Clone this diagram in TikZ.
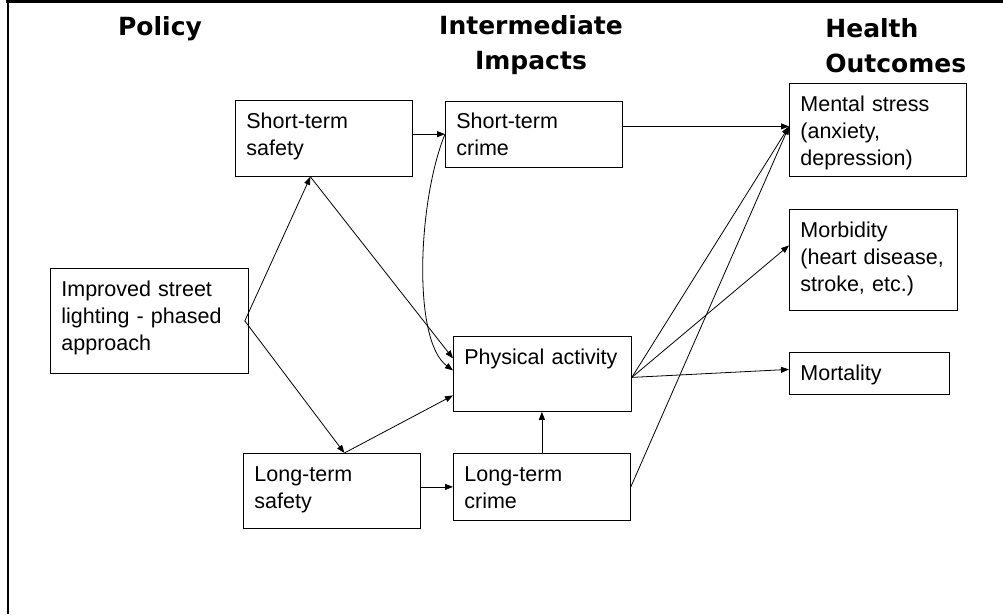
\documentclass[tikz,border=0pt]{standalone}
\usepackage{fontspec}
\usetikzlibrary{arrows.meta}
\newfontfamily\boxfont{Liberation Sans}
\newfontfamily\headfont{DejaVu Sans}
\tikzset{
  box/.style={draw, anchor=north west, align=left, inner xsep=11pt, inner ysep=0pt,
    text height=28pt, font=\boxfont\fontsize{21.5}{27}\selectfont},
  head/.style={inner sep=0pt, font=\headfont\bfseries\fontsize{25}{35}\selectfont}
}

\begin{document}
\begin{tikzpicture}[x=1pt, y=-1pt, line width=0.8pt]
      \useasboundingbox (0,0) rectangle (1003,614);
      \draw[line width=3pt] (1003,1.5) -- (6,1.5);
      \draw[line width=2pt] (7.5,0) -- (7.5,614);
      % column headings
      \node[head] (policy) at (160,29) {Policy};
      \node[head, align=center] (inter) at (531,45.5) {Intermediate\\Impacts};
      \node[head, align=left, anchor=west] (health) at (825,45.5) {Health\\Outcomes};
      % boxes
      \node[box, text width=176pt, text depth=77pt] (light) at (50,268) {Improved street\\lighting - phased\\approach};
      \node[box, text width=155pt, text depth=48pt] (stsafe) at (235,100) {Short-term\\safety};
      \node[box, text width=155pt, text depth=38.5pt] (stcrime) at (445,100.5) {Short-term\\crime};
      \node[box, text width=156pt, text depth=47pt] (activity) at (453,336) {Physical activity};
      \node[box, text width=155pt, text depth=47pt] (ltsafe) at (243,453) {Long-term\\safety};
      \node[box, text width=155pt, text depth=39pt] (ltcrime) at (453,453) {Long-term\\crime};
      \node[box, text width=155pt, text depth=65pt] (stress) at (789,83) {Mental stress\\(anxiety,\\depression)};
      \node[box, text width=146pt, text depth=73pt] (morbid) at (789,209) {Morbidity\\(heart disease,\\stroke, etc.)};
      \node[box, text width=138pt, text depth=14pt] (mortal) at (789,352) {Mortality};
      \coordinate (stressin) at ([yshift=3.5pt]stress.west);
      \coordinate (actout) at ([yshift=-3.5pt]activity.east);
      \begin{scope}[-{Triangle[length=8pt,width=6pt]}]
        \draw ([xshift=-4pt]light.east) to ([xshift=-13.5pt]stsafe.south);
        \draw ([xshift=-4pt]light.east) to ([xshift=12.5pt]ltsafe.north);
        \draw ([xshift=-13.5pt]stsafe.south) to ([yshift=15.5pt]activity.west);
        \draw (stsafe.east |- stcrime.west) to (stcrime.west);
        \draw (stcrime.west) .. controls (418,200) and (412,340) .. ([yshift=3.5pt]activity.west);
        \draw ([xshift=12.5pt]ltsafe.north) to ([yshift=-21.5pt]activity.west);
        \draw (ltsafe.east |- ltcrime.west) to (ltcrime.west);
        \draw (ltcrime.north) to (ltcrime.north |- activity.south);
        \draw (stcrime.east |- stressin) to (stressin);
        \draw (actout) to (stressin);
        \draw (ltcrime.east) to (stressin);
        \draw (actout) to ([yshift=14.5pt]morbid.west);
        \draw (actout) to ([yshift=4pt]mortal.west);
      \end{scope}
    \end{tikzpicture}
\end{document}
